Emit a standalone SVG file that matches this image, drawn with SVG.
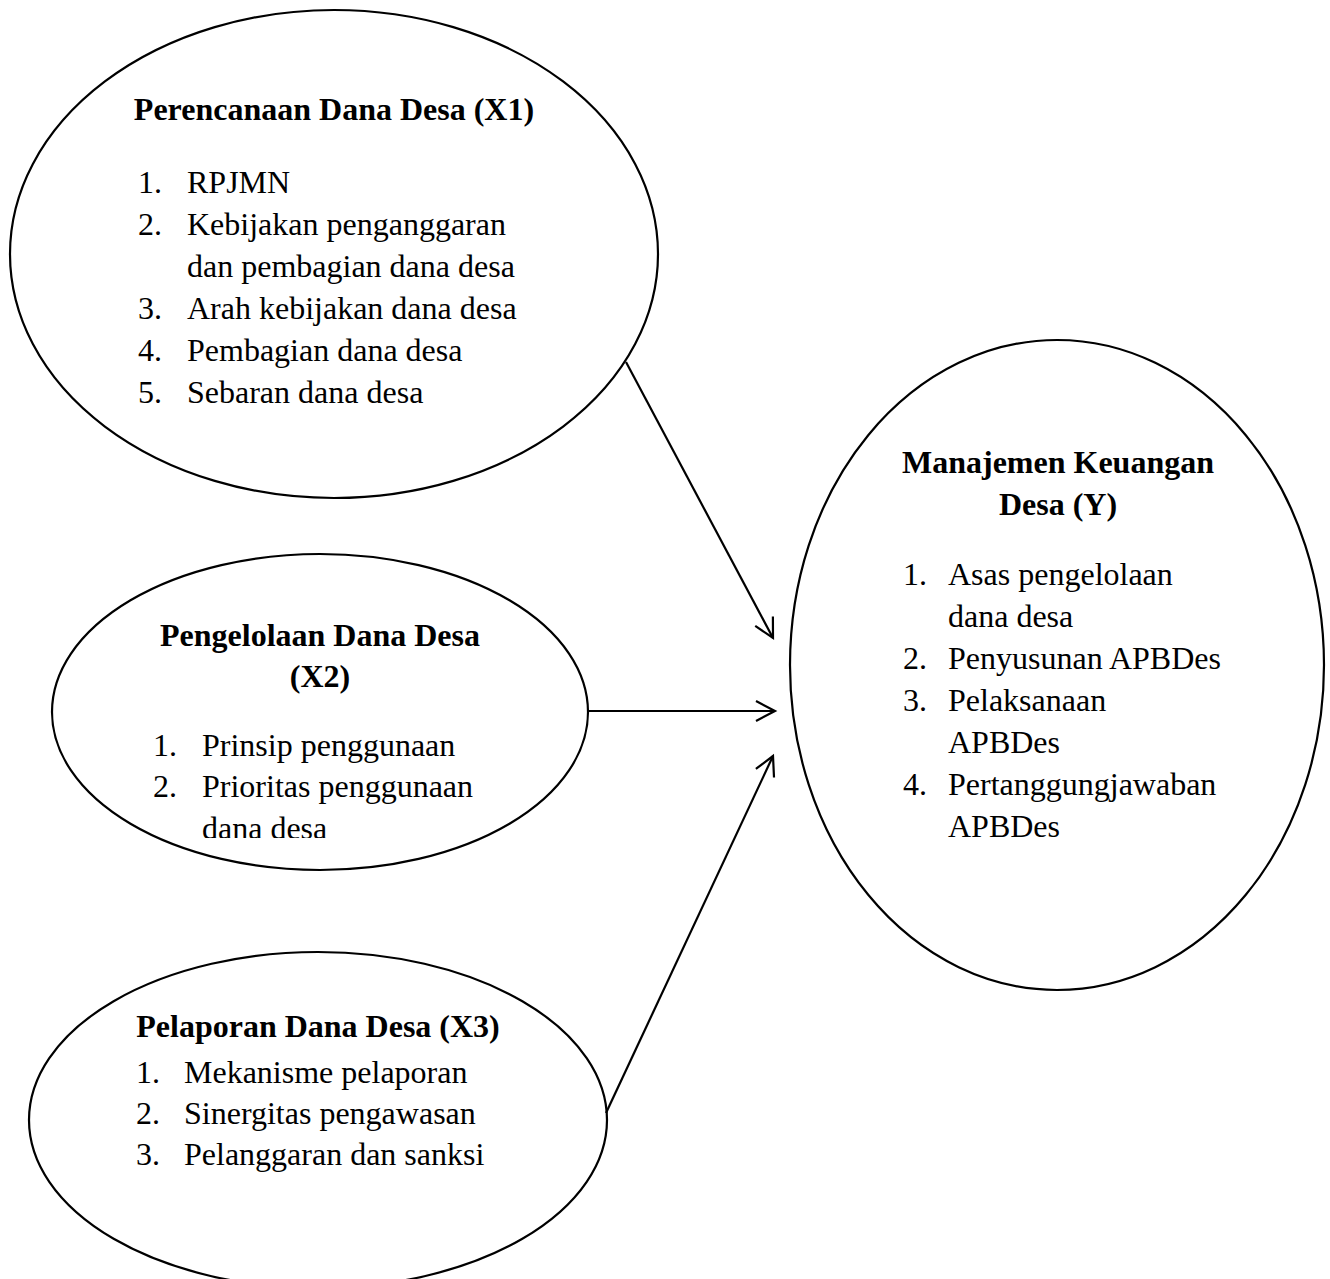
<svg xmlns="http://www.w3.org/2000/svg" width="1330" height="1279" viewBox="0 0 1330 1279">
<style>
.node{fill:#fff;stroke:#000;stroke-width:2.2}
.t{font-family:"Liberation Serif","Times New Roman",serif;font-size:32px;fill:#000}
.b{font-weight:bold;text-anchor:middle}
.c{fill:none;stroke:#000;stroke-width:2.2}
</style>
<defs>
<marker id="arr" markerUnits="userSpaceOnUse" markerWidth="30" markerHeight="30" viewBox="-22 -15 30 30" refX="0" refY="0" orient="auto">
<path d="M-19,-10 L0,0 L-19,10" fill="none" stroke="#000" stroke-width="2.2"/>
</marker>
<clipPath id="clipX2"><rect x="0" y="540" width="620" height="298"/></clipPath>
</defs>
<rect width="1330" height="1279" fill="#fff"/>
<g id="X1">
<ellipse class="node" cx="334" cy="254" rx="324" ry="244"/>
<text class="t b" x="334" y="120">Perencanaan Dana Desa (X1)</text>
<text class="t" x="138" y="193">1.</text><text class="t" x="187" y="193">RPJMN</text>
<text class="t" x="138" y="235">2.</text><text class="t" x="187" y="235">Kebijakan penganggaran</text>
<text class="t" x="187" y="277">dan pembagian dana desa</text>
<text class="t" x="138" y="319">3.</text><text class="t" x="187" y="319">Arah kebijakan dana desa</text>
<text class="t" x="138" y="361">4.</text><text class="t" x="187" y="361">Pembagian dana desa</text>
<text class="t" x="138" y="403">5.</text><text class="t" x="187" y="403">Sebaran dana desa</text>
</g>
<g id="X2">
<ellipse class="node" cx="320" cy="712" rx="268" ry="158"/>
<text class="t b" x="320" y="646">Pengelolaan Dana Desa</text>
<text class="t b" x="320" y="687">(X2)</text>
<text class="t" x="153" y="756">1.</text><text class="t" x="202" y="756">Prinsip penggunaan</text>
<text class="t" x="153" y="797">2.</text><text class="t" x="202" y="797">Prioritas penggunaan</text>
<text class="t" x="202" y="839" clip-path="url(#clipX2)">dana desa</text>
</g>
<g id="X3">
<ellipse class="node" cx="318" cy="1120" rx="289" ry="168"/>
<text class="t b" x="318" y="1037">Pelaporan Dana Desa (X3)</text>
<text class="t" x="136" y="1083">1.</text><text class="t" x="184" y="1083">Mekanisme pelaporan</text>
<text class="t" x="136" y="1124">2.</text><text class="t" x="184" y="1124">Sinergitas pengawasan</text>
<text class="t" x="136" y="1165">3.</text><text class="t" x="184" y="1165">Pelanggaran dan sanksi</text>
</g>
<g id="Y">
<ellipse class="node" cx="1057" cy="665" rx="267" ry="325"/>
<text class="t b" x="1058" y="473">Manajemen Keuangan</text>
<text class="t b" x="1058" y="515">Desa (Y)</text>
<text class="t" x="903" y="585">1.</text><text class="t" x="948" y="585">Asas pengelolaan</text>
<text class="t" x="948" y="627">dana desa</text>
<text class="t" x="903" y="669">2.</text><text class="t" x="948" y="669">Penyusunan APBDes</text>
<text class="t" x="903" y="711">3.</text><text class="t" x="948" y="711">Pelaksanaan</text>
<text class="t" x="948" y="753">APBDes</text>
<text class="t" x="903" y="795">4.</text><text class="t" x="948" y="795">Pertanggungjawaban</text>
<text class="t" x="948" y="837">APBDes</text>
</g>
<g id="connectors">
<line class="c" x1="626" y1="362" x2="773" y2="638" marker-end="url(#arr)"/>
<line class="c" x1="589" y1="711" x2="775" y2="711" marker-end="url(#arr)"/>
<line class="c" x1="606" y1="1113" x2="773" y2="756" marker-end="url(#arr)"/>
</g>
</svg>
